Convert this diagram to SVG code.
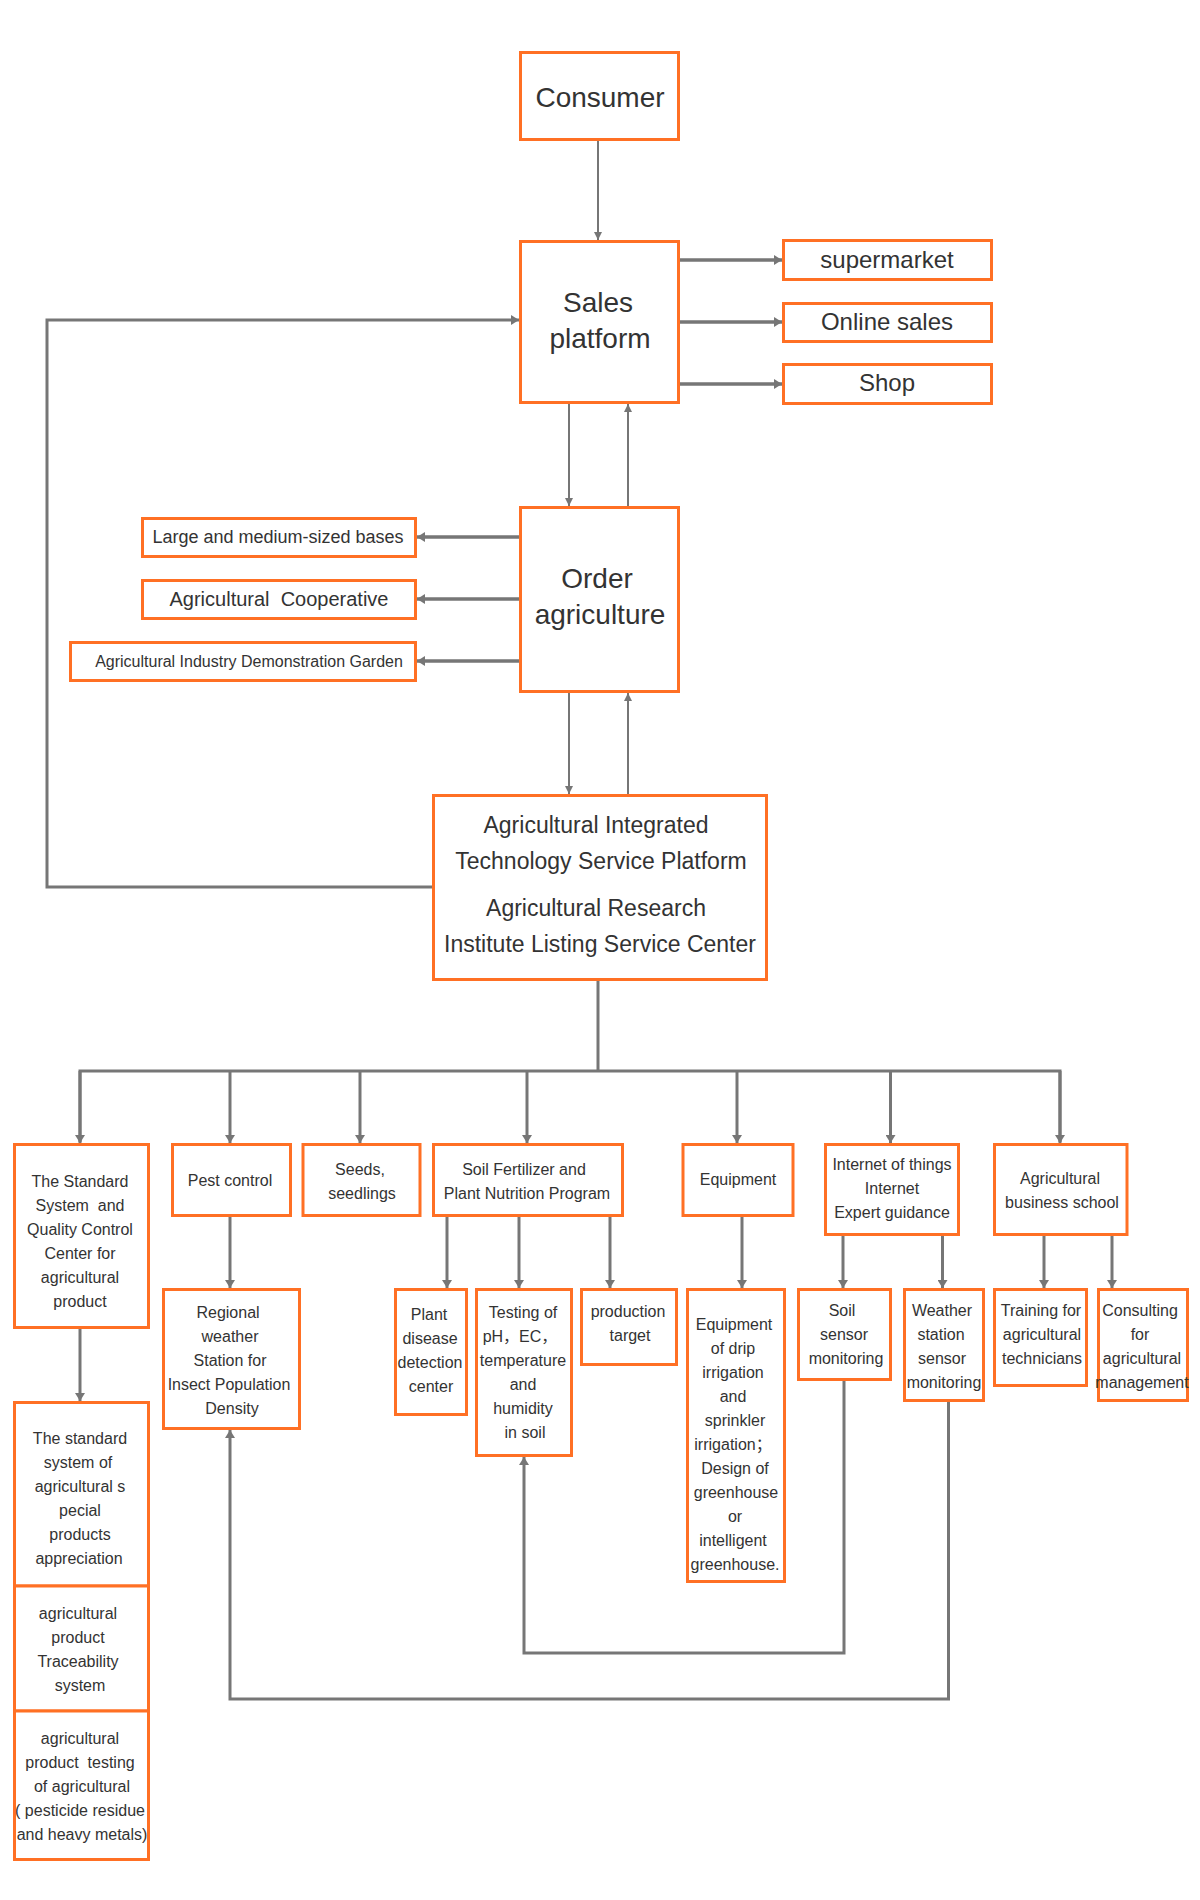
<svg xmlns="http://www.w3.org/2000/svg" width="1200" height="1900" viewBox="0 0 1200 1900">
<defs>
<style>
.box{fill:#fff;stroke:#FF7024;stroke-width:3}
.t{font-family:"Liberation Sans",Arial,"Noto Sans CJK SC",sans-serif;fill:#333;text-anchor:middle}
.f28{font-size:28px}.f24{font-size:24px}.f23{font-size:23px}.f20{font-size:20px}.f18{font-size:18px}.f16{font-size:16px}
.c{fill:none;stroke:#767676;stroke-linejoin:miter}
.w2{stroke-width:2}.w3{stroke-width:3}.w35{stroke-width:3.5}
</style>
<marker id="ah" viewBox="0 0 8 8" refX="8" refY="4" markerWidth="8" markerHeight="8" markerUnits="userSpaceOnUse" orient="auto">
<path d="M0,0 L8,4 L0,8 z" fill="#767676"/>
</marker>
<marker id="ahs" viewBox="0 0 8 10" refX="8" refY="5" markerWidth="8" markerHeight="10" markerUnits="userSpaceOnUse" orient="auto">
<path d="M0,0 L8,5 L0,10 z" fill="#767676"/>
</marker>
</defs>
<rect width="1200" height="1900" fill="#fff"/>

<g id="connectors">
<path class="c w2" d="M598,141 V240" marker-end="url(#ah)"/>
<path class="c w2" d="M569,404 V506" marker-end="url(#ah)"/>
<path class="c w2" d="M628,506 V404" marker-end="url(#ah)"/>
<path class="c w2" d="M569,693 V794" marker-end="url(#ah)"/>
<path class="c w2" d="M628,794 V693" marker-end="url(#ah)"/>
<path class="c w35" d="M680,260 H782" marker-end="url(#ahs)"/>
<path class="c w35" d="M680,322 H782" marker-end="url(#ahs)"/>
<path class="c w35" d="M680,384 H782" marker-end="url(#ahs)"/>
<path class="c w35" d="M519,537 H417" marker-end="url(#ahs)"/>
<path class="c w35" d="M519,599 H417" marker-end="url(#ahs)"/>
<path class="c w35" d="M519,661 H417" marker-end="url(#ahs)"/>
<path class="c w3" d="M432,887 H47 V320 H519" marker-end="url(#ahs)"/>
<path class="c w3" d="M598,981 V1071"/>
<path class="c w3" d="M80,1142 V1071 H1060 V1142"/>
<path class="c w3" d="M80,1071 V1143" marker-end="url(#ahs)"/>
<path class="c w3" d="M230,1071 V1143" marker-end="url(#ahs)"/>
<path class="c w3" d="M360,1071 V1143" marker-end="url(#ahs)"/>
<path class="c w3" d="M527,1071 V1143" marker-end="url(#ahs)"/>
<path class="c w3" d="M737,1071 V1143" marker-end="url(#ahs)"/>
<path class="c w3" d="M890.5,1071 V1143" marker-end="url(#ahs)"/>
<path class="c w3" d="M1060,1071 V1143" marker-end="url(#ahs)"/>
<path class="c w3" d="M80,1329 V1401" marker-end="url(#ahs)"/>
<path class="c w3" d="M230,1217 V1288" marker-end="url(#ahs)"/>
<path class="c w3" d="M447,1217 V1288" marker-end="url(#ahs)"/>
<path class="c w3" d="M519,1217 V1288" marker-end="url(#ahs)"/>
<path class="c w3" d="M610,1217 V1288" marker-end="url(#ahs)"/>
<path class="c w3" d="M742,1217 V1288" marker-end="url(#ahs)"/>
<path class="c w3" d="M843,1236 V1288" marker-end="url(#ahs)"/>
<path class="c w3" d="M942.5,1236 V1288" marker-end="url(#ahs)"/>
<path class="c w3" d="M1044,1236 V1288" marker-end="url(#ahs)"/>
<path class="c w3" d="M1112,1236 V1288" marker-end="url(#ahs)"/>
<path class="c w3" d="M844,1380 V1653 H524 V1457" marker-end="url(#ahs)"/>
<path class="c w3" d="M948.5,1401 V1699 H230 V1430" marker-end="url(#ahs)"/>
</g>

<g id="consumer"><rect class="box" x="520.5" y="52.5" width="158" height="87"/><text class="t f28" x="600" y="107">Consumer</text></g>
<g id="sales"><rect class="box" x="520.5" y="241.5" width="158" height="161"/><text class="t f28" x="598" y="312">Sales</text><text class="t f28" x="600" y="348">platform</text></g>
<g id="supermarket"><rect class="box" x="783.5" y="240.5" width="208" height="39"/><text class="t f24" x="887" y="268">supermarket</text></g>
<g id="online"><rect class="box" x="783.5" y="303.5" width="208" height="38"/><text class="t f24" x="887" y="330">Online sales</text></g>
<g id="shop"><rect class="box" x="783.5" y="364.5" width="208" height="39"/><text class="t f24" x="887" y="391">Shop</text></g>
<g id="order"><rect class="box" x="520.5" y="507.5" width="158" height="184"/><text class="t f28" x="597" y="588">Order</text><text class="t f28" x="600" y="624">agriculture</text></g>
<g id="large"><rect class="box" x="142.5" y="518.5" width="273" height="38"/><text class="t f18" x="278" y="543">Large and medium-sized bases</text></g>
<g id="coop"><rect class="box" x="142.5" y="580.5" width="273" height="38"/><text class="t f20" x="279" y="606" xml:space="preserve">Agricultural  Cooperative</text></g>
<g id="demo"><rect class="box" x="70.5" y="642.5" width="345" height="38"/><text class="t f16" x="249" y="667">Agricultural Industry Demonstration Garden</text></g>
<g id="ats"><rect class="box" x="433.5" y="795.5" width="333" height="184"/>
<text class="t f23" x="596" y="833">Agricultural Integrated</text>
<text class="t f23" x="601" y="869">Technology Service Platform</text>
<text class="t f23" x="596" y="916">Agricultural Research</text>
<text class="t f23" x="600" y="952">Institute Listing Service Center</text></g>

<g id="standard"><rect class="box" x="14.5" y="1144.5" width="134" height="183"/>
<text class="t f16" x="80" y="1187">The Standard</text><text class="t f16" x="80" y="1211" xml:space="preserve">System  and</text><text class="t f16" x="80" y="1235">Quality Control</text><text class="t f16" x="80" y="1259">Center for</text><text class="t f16" x="80" y="1283">agricultural</text><text class="t f16" x="80" y="1307">product</text></g>
<g id="pest"><rect class="box" x="172.5" y="1144.5" width="118" height="71"/><text class="t f16" x="230" y="1186">Pest control</text></g>
<g id="seeds"><rect class="box" x="303" y="1144.5" width="117" height="71"/><text class="t f16" x="360" y="1175">Seeds,</text><text class="t f16" x="362" y="1199">seedlings</text></g>
<g id="soilfert"><rect class="box" x="433.5" y="1144.5" width="189" height="71"/><text class="t f16" x="524" y="1175">Soil Fertilizer and</text><text class="t f16" x="527" y="1199">Plant Nutrition Program</text></g>
<g id="equipment"><rect class="box" x="683" y="1144.5" width="110" height="71"/><text class="t f16" x="738" y="1185">Equipment</text></g>
<g id="iot"><rect class="box" x="825.5" y="1144.5" width="133" height="90"/><text class="t f16" x="892" y="1170">Internet of things</text><text class="t f16" x="892" y="1194">Internet</text><text class="t f16" x="892" y="1218">Expert guidance</text></g>
<g id="school"><rect class="box" x="994.5" y="1144.5" width="132.5" height="90"/><text class="t f16" x="1060" y="1184">Agricultural</text><text class="t f16" x="1062" y="1208">business school</text></g>

<g id="regional"><rect class="box" x="163.5" y="1289.5" width="136" height="139"/>
<text class="t f16" x="228" y="1318">Regional</text><text class="t f16" x="230" y="1342">weather</text><text class="t f16" x="230" y="1366">Station for</text><text class="t f16" x="229" y="1390">Insect Population</text><text class="t f16" x="232" y="1414">Density</text></g>
<g id="plantdisease"><rect class="box" x="395.5" y="1289.5" width="71" height="125"/>
<text class="t f16" x="429" y="1320">Plant</text><text class="t f16" x="430" y="1344">disease</text><text class="t f16" x="430" y="1368">detection</text><text class="t f16" x="431" y="1392">center</text></g>
<g id="testingph"><rect class="box" x="476.5" y="1289.5" width="95" height="166"/>
<text class="t f16" x="523" y="1318">Testing of</text><text class="t f16" x="520" y="1342">pH，EC，</text><text class="t f16" x="523" y="1366">temperature</text><text class="t f16" x="523" y="1390">and</text><text class="t f16" x="523" y="1414">humidity</text><text class="t f16" x="525" y="1438">in soil</text></g>
<g id="production"><rect class="box" x="581.5" y="1289.5" width="95" height="75"/>
<text class="t f16" x="628" y="1317">production</text><text class="t f16" x="630" y="1341">target</text></g>
<g id="drip"><rect class="box" x="687.5" y="1289.5" width="97" height="292"/>
<text class="t f16" x="734" y="1330">Equipment</text><text class="t f16" x="733" y="1354">of drip</text><text class="t f16" x="733" y="1378">irrigation</text><text class="t f16" x="733" y="1402">and</text><text class="t f16" x="735" y="1426">sprinkler</text><text class="t f16" x="733" y="1450">irrigation；</text><text class="t f16" x="735" y="1474">Design of</text><text class="t f16" x="736" y="1498">greenhouse</text><text class="t f16" x="735" y="1522">or</text><text class="t f16" x="733" y="1546">intelligent</text><text class="t f16" x="735" y="1570">greenhouse.</text></g>
<g id="soilsensor"><rect class="box" x="798.5" y="1289.5" width="92" height="90"/>
<text class="t f16" x="842" y="1316">Soil</text><text class="t f16" x="844" y="1340">sensor</text><text class="t f16" x="846" y="1364">monitoring</text></g>
<g id="weatherstation"><rect class="box" x="904.5" y="1289.5" width="79" height="111"/>
<text class="t f16" x="942" y="1316">Weather</text><text class="t f16" x="941" y="1340">station</text><text class="t f16" x="942" y="1364">sensor</text><text class="t f16" x="944" y="1388">monitoring</text></g>
<g id="training"><rect class="box" x="994.5" y="1289.5" width="92" height="96"/>
<text class="t f16" x="1041" y="1316">Training for</text><text class="t f16" x="1042" y="1340">agricultural</text><text class="t f16" x="1042" y="1364">technicians</text></g>
<g id="consulting"><rect class="box" x="1098.5" y="1289.5" width="89" height="111"/>
<text class="t f16" x="1140" y="1316">Consulting</text><text class="t f16" x="1140" y="1340">for</text><text class="t f16" x="1142" y="1364">agricultural</text><text class="t f16" x="1142" y="1388">management</text></g>

<g id="stdsystem"><rect class="box" x="14.5" y="1402.5" width="134" height="183.5"/>
<text class="t f16" x="80" y="1444">The standard</text><text class="t f16" x="78" y="1468">system of</text><text class="t f16" x="80" y="1492">agricultural s</text><text class="t f16" x="80" y="1516">pecial</text><text class="t f16" x="80" y="1540">products</text><text class="t f16" x="79" y="1564">appreciation</text></g>
<g id="traceability"><rect class="box" x="14.5" y="1586" width="134" height="125"/>
<text class="t f16" x="78" y="1619">agricultural</text><text class="t f16" x="78" y="1643">product</text><text class="t f16" x="78" y="1667">Traceability</text><text class="t f16" x="80" y="1691">system</text></g>
<g id="testing"><rect class="box" x="14.5" y="1711" width="134" height="148.5"/>
<text class="t f16" x="80" y="1744">agricultural</text><text class="t f16" x="80" y="1768" xml:space="preserve">product  testing</text><text class="t f16" x="82" y="1792">of agricultural</text><text class="t f16" x="80" y="1816">( pesticide residue</text><text class="t f16" x="82" y="1840">and heavy metals)</text></g>
</svg>
